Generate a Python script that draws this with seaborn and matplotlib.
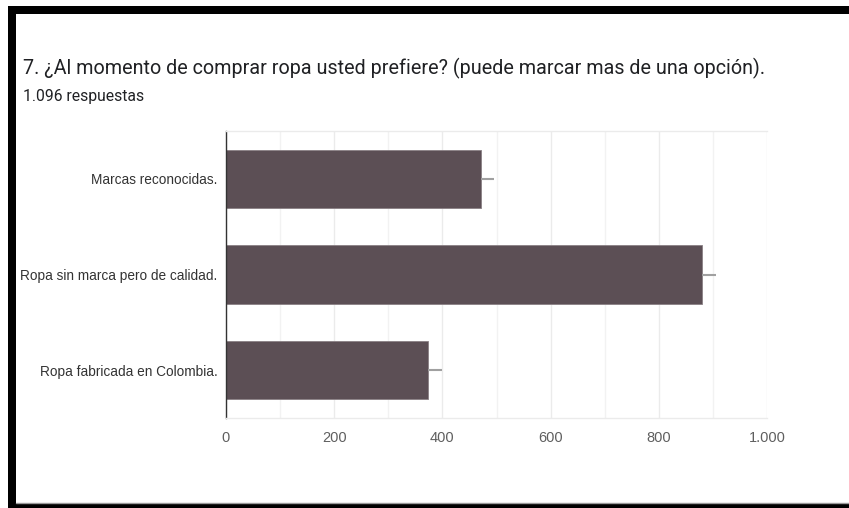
import matplotlib
matplotlib.use("Agg")
import matplotlib.pyplot as plt
import seaborn as sns
import pandas as pd
from matplotlib.patches import Rectangle
from matplotlib.lines import Line2D

categories = ["Marcas reconocidas.", "Ropa sin marca pero de calidad.", "Ropa fabricada en Colombia."]
values = [471, 880, 374]
errors = [25, 25, 25]
xticks = [0, 200, 400, 600, 800, 1000]
xticklabels = ["0", "200", "400", "600", "800", "1.000"]
title = "7. ¿Al momento de comprar ropa usted prefiere? (puede marcar mas de una opción)."
subtitle = "1.096 respuestas"

sns.set_theme(style="white")
W, H = 849, 508
fig = plt.figure(figsize=(W / 100, H / 100), dpi=100)
fig.patch.set_facecolor("white")

ax = fig.add_axes([226 / W, 1 - 418 / H, 541 / W, 287 / H])
df = pd.DataFrame({"cat": categories, "val": values})
sns.barplot(data=df, x="val", y="cat", orient="h", color="#5c4f55", saturation=1,
            width=0.61, errorbar=None, edgecolor="#8a8085", linewidth=0.6, ax=ax)
ypos = list(range(len(categories)))
ax.errorbar(values, ypos, xerr=[[0] * len(errors), errors], fmt="none",
            ecolor="#a0a0a0", elinewidth=1.5, capsize=0, zorder=3)

ax.set_xlim(0, 1000)
ax.set_ylim(len(categories) - 0.5, -0.5)
ax.set_xticks(xticks)
ax.set_xticklabels(xticklabels)
ax.set_xticks(range(100, 1000, 200), minor=True)
ax.xaxis.grid(True, which="major", color="#ebebeb", linewidth=1)
ax.xaxis.grid(True, which="minor", color="#f2f2f2", linewidth=1)
ax.set_axisbelow(True)
ax.set_xlabel("")
ax.set_ylabel("")
for lab in ax.get_xticklabels():
    lab.set_fontfamily("Liberation Sans")
    lab.set_fontsize(10.5)
    lab.set_color("#5f5f5f")
for lab in ax.get_yticklabels():
    lab.set_fontfamily("Liberation Sans")
    lab.set_fontsize(9.8)
    lab.set_color("#333333")
ax.tick_params(axis="x", length=0, pad=9)
ax.tick_params(axis="y", length=0, pad=6)
ax.tick_params(axis="x", which="minor", length=0)
for s in ["top", "bottom"]:
    ax.spines[s].set_color("#ebebeb")
    ax.spines[s].set_linewidth(1)
ax.spines["right"].set_visible(False)
ax.spines["left"].set_color("#333333")
ax.spines["left"].set_linewidth(1)

fig.text(23 / W, 1 - 68 / H, title, fontfamily="Roboto", fontsize=14.2,
         color="#202124", va="center", ha="left")
fig.text(23 / W, 1 - 96 / H, subtitle, fontfamily="Roboto", fontsize=11.3,
         color="#202124", va="center", ha="left")

# frame borders
fig.add_artist(Rectangle((8 / W, 1 - 14 / H), 1 - 8 / W, 8 / H, transform=fig.transFigure,
                         facecolor="black", edgecolor="none"))
fig.add_artist(Rectangle((8 / W, 0), 8 / W, 1 - 6 / H, transform=fig.transFigure,
                         facecolor="black", edgecolor="none"))
fig.add_artist(Rectangle((8 / W, 0), 1 - 8 / W, 5 / H, transform=fig.transFigure,
                         facecolor="black", edgecolor="none"))
fig.add_artist(Line2D([16 / W, 1], [5.5 / H, 5.5 / H], transform=fig.transFigure,
                      color="#9a9a9a", linewidth=1))

fig.savefig("out.png", dpi=100)
